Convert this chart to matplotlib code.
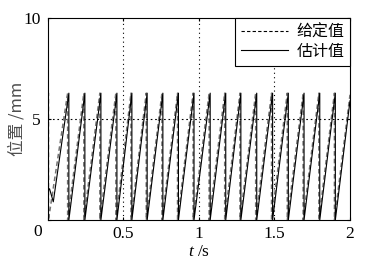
import matplotlib
matplotlib.use('Agg')
import matplotlib.pyplot as plt

# wrap times (s), peak value ~2*pi mm
peak = 6.28
est_wraps = [0.140, 0.246, 0.352, 0.458, 0.557, 0.658, 0.762, 0.865, 0.968,
             1.075, 1.178, 1.278, 1.383, 1.488, 1.592, 1.696, 1.800, 1.903]
giv_wraps = [0.132, 0.239, 0.345, 0.451, 0.551, 0.652, 0.756, 0.859, 0.962,
             1.068, 1.171, 1.272, 1.376, 1.481, 1.585, 1.690, 1.794, 1.897]

# start of each series before the first wrap
est_start_t = [0.0, 0.012, 0.037]
est_start_y = [1.4, 1.55, 0.9]
giv_start_t = [0.0, 0.005, 0.005]
giv_start_y = [6.2, 6.28, 0.0]

# end values at t = 2 s
est_end = 5.9
giv_end = 6.2
t_end = 2.0


def build(start_t, start_y, wraps, end_y):
    t = list(start_t)
    y = list(start_y)
    for w in wraps:
        t += [w, w]
        y += [peak, 0.0]
    t.append(t_end)
    y.append(end_y)
    return t, y


t_g, y_g = build(giv_start_t, giv_start_y, giv_wraps, giv_end)
t_e, y_e = build(est_start_t, est_start_y, est_wraps, est_end)

plt.rcParams['font.family'] = ['Liberation Serif', 'Noto Sans CJK SC']
plt.rcParams['mathtext.fontset'] = 'custom'
plt.rcParams['mathtext.it'] = 'Liberation Serif:italic'

fig = plt.figure(figsize=(3.75, 2.63), dpi=100)
ax = fig.add_axes([47.7 / 375, 1 - 220 / 263, (350 - 47.7) / 375, (220 - 18) / 263])

ax.plot(t_g, y_g, linestyle='--', color='0.45', lw=1.1, dashes=(3, 2), label='给定值')
ax.plot(t_e, y_e, '-', color='black', lw=0.8, label='估计值')

ax.set_xlim(0, 2)
ax.set_ylim(0, 10)
ax.set_xticks([0, 0.5, 1, 1.5, 2])
ax.set_xticklabels(['', '0.5', '1', '1.5', '2'])
ax.set_yticks([0, 5, 10])
ax.set_yticklabels(['', '5', '10'])
ax.tick_params(direction='in', length=2, labelsize=12.5, top=True, right=True)
ax.tick_params(axis='x', pad=4)
ax.tick_params(axis='y', pad=5)
ax.text(-0.032, -0.058, '0', transform=ax.transAxes, ha='center', va='center', fontsize=12.5)

for x in [0.5, 1, 1.5]:
    ax.axvline(x, color='black', lw=0.8, linestyle=(0, (1, 3)), zorder=0)
ax.axhline(5, color='black', lw=0.8, linestyle=(0, (1.5, 2.5)), zorder=0)

for s in ax.spines.values():
    s.set_linewidth(0.8)

ax.set_xlabel('$t$ /s', fontsize=12.5)
ax.xaxis.set_label_coords(0.5, -0.118)
ax.set_ylabel('位置 /mm', fontsize=12,
              family=['Noto Sans CJK SC', 'Liberation Serif'], color='0.3')
ax.yaxis.set_label_coords(-0.075, 0.5)

leg = ax.legend(loc='upper right', borderaxespad=0, fancybox=False, framealpha=1,
                edgecolor='black', handlelength=3.0, handletextpad=0.5,
                prop={'family': ['Noto Sans CJK SC'], 'size': 11.5},
                borderpad=0.35, labelspacing=0.15)
leg.get_frame().set_linewidth(0.8)
for line in leg.get_lines():
    line.set_color('black')
    line.set_linewidth(0.8)

fig.savefig('out.png', dpi=100)
